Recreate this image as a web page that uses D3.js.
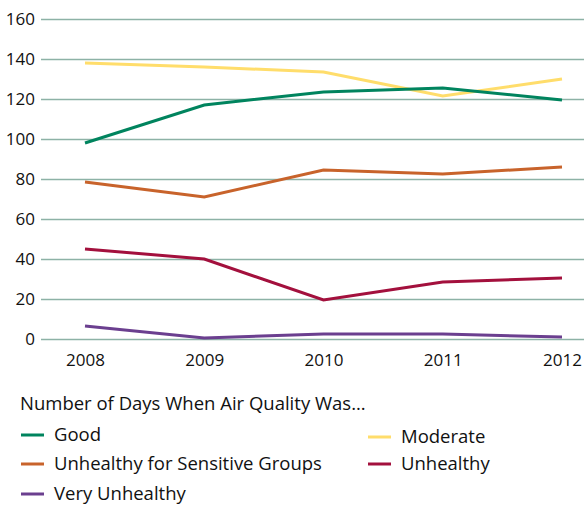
<!DOCTYPE html>
<html>
<head>
<meta charset="utf-8">
<script src="https://cdn.jsdelivr.net/npm/d3@7"></script>
<style>
  body { margin: 0; background: #fff; }
  svg text { font-family: "Open Sans", "Noto Sans", sans-serif; fill: #111; }
</style>
</head>
<body>
<div id="chart"></div>
<script>
const width = 584;
const height = 506;

const years = [2008, 2009, 2010, 2011, 2012];
const yTicks = [0, 20, 40, 60, 80, 100, 120, 140, 160];

const good = [98, 117, 123.5, 125.5, 119.5];
const moderate = [138, 136, 133.5, 121.5, 130];
const sensitive = [78.5, 71, 84.5, 82.5, 86];
const unhealthy = [45, 40, 19.5, 28.5, 30.5];
const veryUnhealthy = [6.5, 0.5, 2.5, 2.5, 1];

const seriesNames = ["Good", "Moderate", "Unhealthy for Sensitive Groups", "Unhealthy", "Very Unhealthy"];
const seriesColors = ["#00845e", "#ffdd6b", "#c8632b", "#a3103d", "#6b3f8f"];
const seriesValues = [good, moderate, sensitive, unhealthy, veryUnhealthy];

const svg = d3.select("#chart")
    .append("svg")
    .attr("width", width)
    .attr("height", height);

const x = d3.scaleLinear()
    .domain([2008, 2012])
    .range([85, 562]);

const y = d3.scaleLinear()
    .domain([0, 160])
    .range([339, 19]);

// gridlines + y labels
const yAxis = d3.axisLeft(y)
    .tickValues(yTicks)
    .tickSize(-(width - 41))
    .tickPadding(6);

const gy = svg.append("g")
    .attr("transform", "translate(41,0)")
    .call(yAxis);
gy.select(".domain").remove();
gy.selectAll(".tick line")
    .attr("stroke", "#8db2a6")
    .attr("stroke-width", 1.6);
gy.selectAll(".tick text")
    .attr("font-size", 17)
    .attr("x", -6);

// x labels
const xAxis = d3.axisBottom(x)
    .tickValues(years)
    .tickFormat(d3.format("d"))
    .tickSize(0)
    .tickPadding(0);

const gx = svg.append("g")
    .attr("transform", "translate(0,351)")
    .call(xAxis);
gx.select(".domain").remove();
gx.selectAll(".tick text")
    .attr("font-size", 17)
    .attr("dy", "0.9em");

const line = d3.line()
    .x((d, i) => x(years[i]))
    .y(d => y(d));

// draw in order so moderate/good overlap like the original
const drawOrder = [4, 3, 2, 1, 0];
drawOrder.forEach(k => {
    svg.append("path")
        .datum(seriesValues[k])
        .attr("fill", "none")
        .attr("stroke", seriesColors[k])
        .attr("stroke-width", 3)
        .attr("d", line);
});

// legend
svg.append("text")
    .attr("x", 20)
    .attr("y", 410)
    .attr("font-size", 18.5)
    .text("Number of Days When Air Quality Was...");

const legendPos = [
    { x: 21, y: 435 },
    { x: 368, y: 437 },
    { x: 21, y: 464 },
    { x: 368, y: 464 },
    { x: 21, y: 494 }
];

const legend = svg.selectAll(".legend")
    .data(seriesNames)
    .enter()
    .append("g")
    .attr("class", "legend")
    .attr("transform", (d, i) => `translate(${legendPos[i].x},${legendPos[i].y})`);

legend.append("line")
    .attr("x1", 0)
    .attr("x2", 23)
    .attr("stroke", (d, i) => seriesColors[i])
    .attr("stroke-width", 3);

legend.append("text")
    .attr("x", 33)
    .attr("dy", "0.33em")
    .attr("font-size", 18.5)
    .text(d => d);
</script>
</body>
</html>
